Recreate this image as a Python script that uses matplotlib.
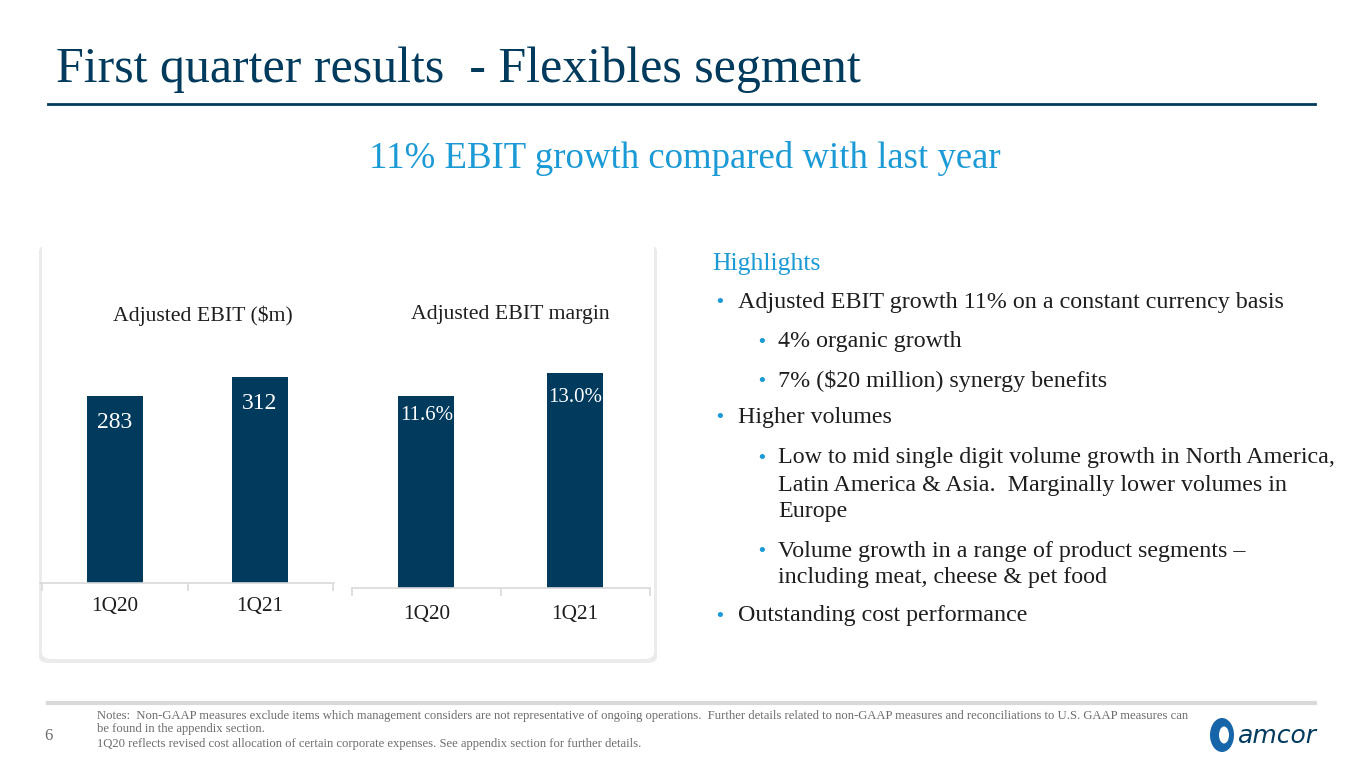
import matplotlib
matplotlib.use("Agg")
import matplotlib.pyplot as plt
from matplotlib.patches import FancyBboxPatch, Ellipse

# data
categories = ["1Q20", "1Q21"]
ebit_values = [283, 312]
ebit_labels = ["283", "312"]
margin_values = [11.6, 13.0]
margin_labels = ["11.6%", "13.0%"]

navy = "#003a5d"
blue = "#1b9ad6"
textc = "#1e1e1e"
serif = ["Liberation Serif", "DejaVu Serif"]

W, H = 1365, 768
fig = plt.figure(figsize=(W / 100, H / 100), dpi=100)
fig.patch.set_facecolor("white")


def fx(x):
    return x / W


def fy(y):
    return 1 - y / H


def ftext(x, y, s, **kw):
    kw.setdefault("family", serif)
    fig.text(fx(x), fy(y), s, **kw)


# title and rule
ftext(56, 70, "First quarter results  - Flexibles segment", fontsize=36, color=navy, va="center")
fig.add_artist(plt.Line2D([fx(48), fx(1315)], [fy(104), fy(104)], color=navy, lw=2))
ftext(685, 158, "11% EBIT growth compared with last year", fontsize=26.5, color=blue, ha="center", va="center")

# card behind the charts
shadow = FancyBboxPatch((fx(39), fy(663)), fx(618), fy(245) - fy(663),
                        boxstyle="round,pad=0,rounding_size=0.008", transform=fig.transFigure,
                        facecolor="#ebebeb", edgecolor="none", zorder=0)
card = FancyBboxPatch((fx(42), fy(659)), fx(612), fy(242) - fy(659),
                      boxstyle="round,pad=0,rounding_size=0.008", transform=fig.transFigure,
                      facecolor="white", edgecolor="none", zorder=0)
fig.add_artist(shadow)
fig.add_artist(card)


def make_axes(left, right, top, bottom):
    return fig.add_axes([fx(left), fy(bottom), fx(right - left), fy(top) - fy(bottom)])


def style_axes(ax, pad):
    for s in ["top", "left", "right"]:
        ax.spines[s].set_visible(False)
    ax.spines["bottom"].set_color("#d9d9d9")
    ax.spines["bottom"].set_linewidth(1.2)
    ax.set_yticks([])
    ax.set_xticks(range(len(categories)))
    ax.set_xticklabels(categories, family=serif, fontsize=15.3, color=textc)
    ax.tick_params(axis="x", length=0, pad=pad)
    ax.set_xticks([-0.5, 0.5, 1.5], minor=True)
    ax.tick_params(axis="x", which="minor", length=6, color="#d9d9d9", width=1.2)
    ax.patch.set_alpha(0)


# left chart: adjusted EBIT
ax1 = make_axes(40, 334, 340, 583)
ax1.bar(range(len(categories)), ebit_values, width=0.38, color=navy)
ax1.set_xlim(-0.517, 1.51)
ax1.set_ylim(0, 367.7)
style_axes(ax1, 10)
for i, v in enumerate(ebit_values):
    ax1.annotate(ebit_labels[i], (i, v), xytext=(0, -19), textcoords="offset points",
                 ha="center", va="center", color="white", fontsize=17, family=serif)
ftext(203, 316, "Adjusted EBIT ($m)", fontsize=15.7, color=textc, ha="center", va="center")

# right chart: adjusted EBIT margin
ax2 = make_axes(352, 650, 340, 588)
ax2.bar(range(len(categories)), margin_values, width=0.376, color=navy)
ax2.set_xlim(-0.497, 1.503)
ax2.set_ylim(0, 14.98)
style_axes(ax2, 12)
offs = [(0, -14), (0, -18)]
for i, v in enumerate(margin_values):
    ax2.annotate(margin_labels[i], (i, v), xytext=offs[i], textcoords="offset points",
                 ha="center", va="center", color="white", fontsize=15, family=serif)
ftext(510, 314, "Adjusted EBIT margin", fontsize=15.7, color=textc, ha="center", va="center")

# highlights
ftext(712, 264, "Highlights", fontsize=18.5, color=blue, va="center")
bullets = [
    (0, 302, "Adjusted EBIT growth 11% on a constant currency basis", True),
    (1, 342, "4% organic growth", True),
    (1, 381, "7% ($20 million) synergy benefits", True),
    (0, 417, "Higher volumes", True),
    (1, 458, "Low to mid single digit volume growth in North America,", True),
    (1, 485, "Latin America & Asia.  Marginally lower volumes in", False),
    (1, 512, "Europe", False),
    (1, 551, "Volume growth in a range of product segments \u2013", True),
    (1, 578, "including meat, cheese & pet food", False),
    (0, 616, "Outstanding cost performance", True),
]
for lvl, y, s, dot in bullets:
    bx = 714 if lvl == 0 else 756
    tx = 738 if lvl == 0 else 778
    if dot:
        ftext(bx, y, "\u2022", fontsize=13, color=blue, va="center", family=["DejaVu Sans"])
    ftext(tx, y, s, fontsize=17.3, color=textc, va="center")

# footer
fig.add_artist(plt.Line2D([fx(48), fx(1315)], [fy(703), fy(703)], color="#d9d9d9", lw=3))
note_c = "#6d6d6d"
ftext(97, 716, "Notes:  Non-GAAP measures exclude items which management considers are not representative of ongoing operations.  "
      "Further details related to non-GAAP measures and reconciliations to U.S. GAAP measures can",
      fontsize=9.1, color=note_c, va="center")
ftext(97, 729, "be found in the appendix section.", fontsize=9.1, color=note_c, va="center")
ftext(97, 744, "1Q20 reflects revised cost allocation of certain corporate expenses. See appendix section for further details.",
      fontsize=9.1, color=note_c, va="center")
ftext(44, 736, "6", fontsize=12, color=note_c, va="center")

# logo
fig.add_artist(Ellipse((fx(1222), fy(735)), fx(24), fy(718) - fy(752), angle=0,
                       transform=fig.transFigure, facecolor="#1565a8", edgecolor="none"))
fig.add_artist(Ellipse((fx(1224), fy(735)), fx(10), fy(727) - fy(744),
                       transform=fig.transFigure, facecolor="white", edgecolor="none"))
ftext(1238, 736, "amcor", fontsize=18, color=navy, va="center", family=["DejaVu Sans"], style="italic")

fig.savefig("out.png", dpi=100, facecolor="white")
